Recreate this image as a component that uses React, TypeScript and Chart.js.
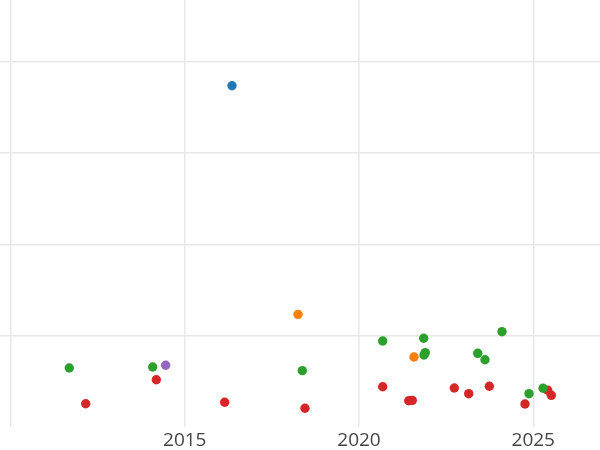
import React, { useEffect, useRef } from "react";
import { Chart, registerables } from "chart.js";

Chart.register(...registerables);

const blueX = [2016.356];
const blueY = [373.8];
const orangeX = [2018.25, 2021.578];
const orangeY = [123.4, 76.7];
const purpleX = [2014.453];
const purpleY = [67.6];
const greenX = [2011.687, 2014.08, 2018.373, 2020.68, 2021.856, 2021.902, 2021.865, 2023.406, 2023.615, 2024.103, 2024.878, 2025.28];
const greenY = [64.6, 65.7, 61.7, 94.2, 97.2, 81.4, 78.9, 80.7, 73.7, 104.4, 36.5, 42.4];
const redX = [2012.158, 2014.184, 2016.146, 2018.45, 2020.68, 2021.426, 2021.529, 2022.734, 2023.148, 2023.739, 2024.763, 2025.415, 2025.518];
const redY = [25.5, 51.8, 27.1, 20.5, 44.1, 28.8, 29.2, 42.7, 36.5, 44.6, 25.2, 40.2, 34.7];

const xTicks = [2010, 2015, 2020, 2025];
const xTickLabels = ["", "2015", "2020", "2025"];
const yTicks = [100, 200, 300, 400];

const xMin = 2009.699;
const xMax = 2026.915;
const yMin = 0;
const yMax = 467.7;

const toPts = (xs: number[], ys: number[]) => xs.map((x, i) => ({ x, y: ys[i] }));

export default function App() {
  const ref = useRef<HTMLCanvasElement>(null);
  useEffect(() => {
    if (!ref.current) return;
    const mk = (label: string, xs: number[], ys: number[], color: string) => ({
      label,
      data: toPts(xs, ys),
      backgroundColor: color,
      borderColor: color,
      pointRadius: 4.7,
      borderWidth: 0,
    });
    const chart = new Chart(ref.current, {
      type: "scatter",
      data: {
        datasets: [
          mk("blue", blueX, blueY, "#1f77b4"),
          mk("orange", orangeX, orangeY, "#ff7f0e"),
          mk("green", greenX, greenY, "#2ca02c"),
          mk("red", redX, redY, "#d62728"),
          mk("purple", purpleX, purpleY, "#9467bd"),
        ],
      },
      options: {
        animation: false,
        responsive: false,
        maintainAspectRatio: false,
        layout: { padding: 0, autoPadding: false },
        plugins: { legend: { display: false }, tooltip: { enabled: false } },
        scales: {
          x: {
            type: "linear",
            min: xMin,
            max: xMax,
            afterBuildTicks: (s: any) => {
              s.ticks = xTicks.map((v) => ({ value: v }));
            },
            afterFit: (s: any) => {
              s.height = 23;
            },
            grid: { color: "#e8e8e8", lineWidth: 1.5, drawTicks: false },
            border: { display: false },
            ticks: {
              padding: 2,
              color: "#444",
              font: { family: "'Open Sans'", size: 19 },
              maxRotation: 0,
              autoSkip: false,
              callback: (v: any) => xTickLabels[xTicks.indexOf(Number(v))] ?? "",
            },
          },
          y: {
            type: "linear",
            min: yMin,
            max: yMax,
            afterBuildTicks: (s: any) => {
              s.ticks = yTicks.map((v) => ({ value: v }));
            },
            afterFit: (s: any) => {
              s.width = 0;
            },
            grid: { color: "#e8e8e8", lineWidth: 1.5, drawTicks: false },
            border: { display: false },
            ticks: { display: false },
          },
        },
      },
    });
    return () => chart.destroy();
  }, []);
  return (
    <div style={{ position: "fixed", left: 0, top: 0, width: 600, height: 450, background: "#fff" }}>
      <canvas ref={ref} width={600} height={450} style={{ width: 600, height: 450 }} />
    </div>
  );
}
